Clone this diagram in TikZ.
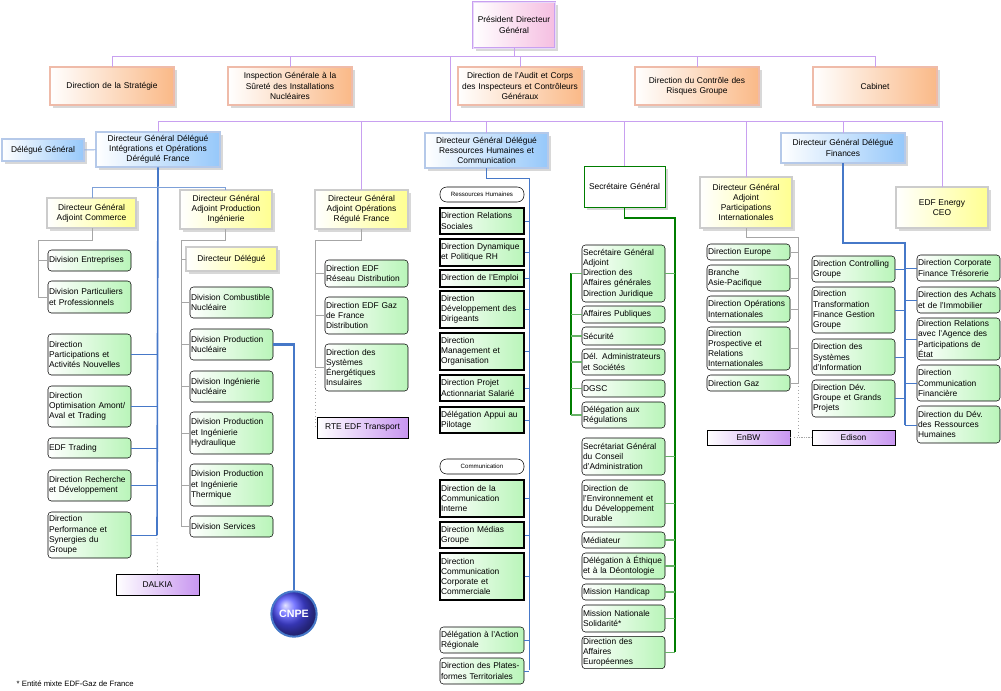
\documentclass[tikz,border=0pt]{standalone}
\usepackage{fontspec}
\setmainfont{Liberation Sans}
\usepackage{xcolor}
\usetikzlibrary{shapes,arrows,positioning,calc,shadows}

\definecolor{lav}{RGB}{200,160,240}
\definecolor{orgB}{RGB}{215,85,40}
\definecolor{orgF}{RGB}{250,185,135}
\definecolor{bluB}{RGB}{70,120,200}
\definecolor{bluF}{RGB}{150,200,250}
\definecolor{yelF}{RGB}{255,255,145}
\definecolor{grnF}{RGB}{185,245,185}
\definecolor{vioF}{RGB}{200,150,240}
\definecolor{pnkF}{RGB}{245,190,225}
\definecolor{dgrn}{RGB}{0,125,0}

\newcommand\fs{\fontsize{6.3}{7.7}\selectfont}
% box from pixel corners: name, x1, y1, x2, y2, style, text
\newcommand\bx[7]{%
  \pgfmathsetmacro\bw{(#4-#2)*0.75}%
  \pgfmathsetmacro\bh{(#5-#3)*0.75}%
  \pgfmathsetmacro\tw{(#4-#2)*0.75-1.6}%
  \node[#6, minimum width=\bw pt, minimum height=\bh pt, text width=\tw pt]
    (#1) at ({(#2+#4)/2},{(#3+#5)/2}) {#7};}

\tikzset{
  box/.style={rectangle, font=\fs, inner xsep=0.8pt, inner ysep=1.5pt, align=center},
  shd/.style={drop shadow={shadow xshift=2pt, shadow yshift=-2pt, fill=black!30}},
  pdg/.style={box, shd, draw=lav, double=lav!40, double distance=0.7pt, left color=white, right color=pnkF},
  org/.style={box, shd, draw=orgB, double=orgB!40, double distance=0.8pt, left color=white, right color=orgF},
  blu/.style={box, shd, draw=bluB, double=bluB!40, double distance=0.8pt, left color=white, right color=bluF},
  yel/.style={box, shd, draw=gray, double=gray!40, double distance=0.8pt, left color=white, right color=yelF},
  sgb/.style={box, shd, draw=dgrn, fill=white},
  grn/.style={box, align=left, draw=black, rounded corners=2.5pt, left color=white, right color=grnF},
  sqg/.style={box, align=left, draw=black, line width=0.8pt, left color=white, right color=grnF},
  vio/.style={box, draw=black, left color=white, right color=vioF},
  tag/.style={box, draw=black, fill=white, rounded corners=5pt, font=\fontsize{4.6}{5}\selectfont},
  lvl/.style={lav, line width=0.7pt},
  gry/.style={gray!70, line width=0.7pt},
  bln/.style={bluB, line width=0.7pt},
  blk/.style={bluB, line width=1.2pt},
  gln/.style={dgrn, line width=1pt},
  lgn/.style={dgrn!60, line width=0.8pt},
  dot/.style={gray!70, dotted, line width=0.6pt}
}

\begin{document}
\begin{tikzpicture}[x=0.75pt, y=-0.75pt]
    \useasboundingbox (0,0) rectangle (1001,690);

    % Bus coordinates
    \coordinate (busA) at (0,56);
    \coordinate (busB) at (0,121);

    % Top level
    \bx{pdg}{473}{2}{555}{48}{pdg}{Président Directeur\\Général}
    \bx{strat}{50}{67}{174}{105}{org}{Direction de la Stratégie}
    \bx{insp}{228}{67}{352}{105}{org}{Inspection Générale à la\\Sûreté des Installations\\Nucléaires}
    \bx{audit}{458}{67}{582}{105}{org}{Direction de l'Audit et Corps\\des Inspecteurs et Contrôleurs\\Généraux}
    \bx{ctrl}{635}{67}{759}{105}{org}{Direction du Contrôle des\\Risques Groupe}
    \bx{cab}{813}{67}{937}{105}{org}{Cabinet}

    % Directeurs generaux
    \bx{delg}{2}{139}{84}{161}{blu}{Délégué Général}
    \bx{dgdi}{96}{132}{220}{167}{blu}{Directeur Général Délégué\\Intégrations et Opérations\\Dérégulé France}
    \bx{dgdr}{425}{133}{548}{168}{blu}{Directeur Général Délégué\\Ressources Humaines et\\Communication}
    \bx{dgdf}{781}{133}{905}{163}{blu}{Directeur Général Délégué\\Finances}
    \bx{secg}{584}{166}{665}{207}{sgb}{Secrétaire Général}
    \bx{acom}{47}{198}{136}{228}{yel}{Directeur Général\\Adjoint Commerce}
    \bx{aprd}{180}{190}{272}{229}{yel}{Directeur Général\\Adjoint Production\\Ingénierie}
    \bx{areg}{315}{190}{408}{229}{yel}{Directeur Général\\Adjoint Opérations\\Régulé France}
    \bx{apar}{700}{177}{792}{228}{yel}{Directeur Général\\Adjoint\\Participations\\Internationales}
    \bx{ener}{896}{187}{988}{228}{yel}{EDF Energy\\CEO}

    % Commerce
    \bx{dent}{48}{250}{131}{271}{grn}{Division Entreprises}
    \bx{dpart}{48}{281}{131}{313}{grn}{Division Particuliers\\et Professionnels}
    % Integrations
    \bx{dpan}{48}{334}{131}{375}{grn}{Direction\\Participations et\\Activités Nouvelles}
    \bx{dopt}{48}{386}{131}{427}{grn}{Direction\\Optimisation Amont/\\Aval et Trading}
    \bx{trad}{48}{438}{131}{458}{grn}{EDF Trading}
    \bx{drd}{48}{470}{131}{501}{grn}{Direction Recherche\\et Développement}
    \bx{dperf}{48}{512}{131}{558}{grn}{Direction\\Performance et\\Synergies du\\Groupe}
    \bx{dalk}{116}{574}{199}{595}{vio}{DALKIA}

    % Production
    \bx{ddel}{186}{247}{277}{271}{yel}{Directeur Délégué}
    \bx{dcomb}{190}{287}{273}{318}{grn}{Division~Combustible\\Nucléaire}
    \bx{dpn}{190}{329}{273}{360}{grn}{Division Production\\Nucléaire}
    \bx{din}{190}{371}{273}{402}{grn}{Division Ingénierie\\Nucléaire}
    \bx{dhyd}{190}{412}{273}{454}{grn}{Division Production\\et Ingénierie\\Hydraulique}
    \bx{dthe}{190}{464}{273}{506}{grn}{Division Production\\et Ingénierie\\Thermique}
    \bx{dsrv}{190}{516}{273}{537}{grn}{Division Services}
    \node[circle, draw=bluB, line width=1.5pt, ball color=blue!70, minimum size=34pt,
          text=white, font=\bfseries\fontsize{8}{9}\selectfont] (cnpe) at (294,614) {CNPE};

    % Regule
    \bx{drsd}{325}{260}{408}{287}{grn}{Direction EDF\\Réseau Distribution}
    \bx{dgaz}{325}{297}{408}{334}{grn}{Direction EDF Gaz\\de France\\Distribution}
    \bx{dsei}{325}{344}{408}{391}{grn}{Direction des\\Systèmes\\Énergétiques\\Insulaires}
    \bx{rte}{317}{417}{408}{438}{vio}{RTE EDF Transport}

    % Ressources humaines et communication
    \bx{trh}{440}{187}{524}{202}{tag}{Ressources Humaines}
    \bx{rsoc}{440}{208}{524}{234}{sqg}{Direction Relations\\Sociales}
    \bx{rdyn}{440}{239}{524}{266}{sqg}{Direction Dynamique\\et Politique RH}
    \bx{remp}{440}{270}{524}{287}{sqg}{Direction de l'Emploi}
    \bx{rdev}{440}{291}{524}{328}{sqg}{Direction\\Développement des\\Dirigeants}
    \bx{rman}{440}{333}{524}{370}{sqg}{Direction\\Management et\\Organisation}
    \bx{rpro}{440}{375}{524}{401}{sqg}{Direction Projet\\Actionnariat Salarié}
    \bx{rapp}{440}{407}{524}{433}{sqg}{Délégation Appui au\\Pilotage}
    \bx{tcom}{440}{459}{524}{474}{tag}{Communication}
    \bx{cint}{440}{480}{524}{517}{sqg}{Direction de la\\Communication\\Interne}
    \bx{cmed}{440}{522}{524}{548}{sqg}{Direction Médias\\Groupe}
    \bx{ccor}{440}{553}{524}{600}{sqg}{Direction\\Communication\\Corporate et\\Commerciale}
    \bx{creg}{440}{627}{524}{653}{grn}{Délégation à l'Action\\Régionale}
    \bx{cplt}{440}{658}{524}{684}{grn}{Direction des Plates-\\formes Territoriales}

    % Secretaire general
    \bx{sga}{582}{245}{665}{302}{grn}{Secrétaire Général\\Adjoint\\Direction des\\Affaires générales\\Direction Juridique}
    \bx{sap}{582}{306}{665}{323}{grn}{Affaires Publiques}
    \bx{ssec}{582}{327}{665}{345}{grn}{Sécurité}
    \bx{sdel}{582}{349}{665}{375}{grn}{Dél. Administrateurs\\et Sociétés}
    \bx{sdgs}{582}{380}{665}{397}{grn}{DGSC}
    \bx{sreg}{582}{402}{665}{428}{grn}{Délégation aux\\Régulations}
    \bx{sca}{582}{438}{665}{475}{grn}{Secrétariat Général\\du Conseil\\d'Administration}
    \bx{senv}{582}{480}{665}{527}{grn}{Direction de\\l'Environnement et\\du Développement\\Durable}
    \bx{smed}{582}{532}{665}{548}{grn}{Médiateur}
    \bx{seth}{582}{553}{665}{579}{grn}{Délégation~à~Éthique\\et à la Déontologie}
    \bx{shan}{582}{584}{665}{600}{grn}{Mission Handicap}
    \bx{ssol}{582}{605}{665}{632}{grn}{Mission Nationale\\Solidarité*}
    \bx{seur}{582}{637}{665}{668}{grn}{Direction des\\Affaires\\Européennes}

    % Participations internationales
    \bx{peur}{707}{244}{790}{260}{grn}{Direction Europe}
    \bx{pasi}{707}{265}{790}{291}{grn}{Branche\\Asie-Pacifique}
    \bx{pope}{707}{296}{790}{322}{grn}{Direction Opérations\\Internationales}
    \bx{ppro}{707}{327}{790}{370}{grn}{Direction\\Prospective et\\Relations\\Internationales}
    \bx{pgaz}{707}{375}{790}{391}{grn}{Direction Gaz}
    \bx{enbw}{707}{430}{790}{445}{vio}{EnBW}
    \bx{edis}{812}{430}{895}{445}{vio}{Edison}

    % Finances
    \bx{fcon}{812}{256}{895}{282}{grn}{Direction Controlling\\Groupe}
    \bx{ftra}{812}{287}{895}{333}{grn}{Direction\\Transformation\\Finance Gestion\\Groupe}
    \bx{fsi}{812}{339}{895}{375}{grn}{Direction des\\Systèmes\\d'Information}
    \bx{fdev}{812}{380}{895}{417}{grn}{Direction Dév.\\Groupe et Grands\\Projets}
    \bx{fcor}{917}{255}{1000}{281}{grn}{Direction Corporate\\Finance Trésorerie}
    \bx{fach}{917}{287}{1000}{313}{grn}{Direction~des~Achats\\et de l'Immobilier}
    \bx{fape}{917}{318}{1000}{360}{grn}{Direction Relations\\avec l'Agence des\\Participations de\\État}
    \bx{fcom}{917}{365}{1000}{401}{grn}{Direction\\Communication\\Financière}
    \bx{frh}{917}{406}{1000}{443}{grn}{Direction du Dév.\\des Ressources\\Humaines}

    \node[font=\fontsize{5.8}{7}\selectfont, anchor=west] (note) at (12,684) {* Entité mixte EDF-Gaz de France};

    % Top connectors
    \draw[lvl] (pdg) -- (pdg |- busA);
    \draw[lvl] (strat.north |- busA) -- (cab.north |- busA);
    \foreach \n in {strat,insp,audit,ctrl,cab} \draw[lvl] (\n.north |- busA) -- (\n.north);
    \coordinate (colA) at (450,0);
    \draw[lvl] (colA |- busA) -- (colA |- busB);
    \coordinate (colP) at (746,0);
    \draw[lvl] (dgdi.north |- busB) -- (ener.north |- busB);
    \foreach \n in {dgdi,areg,dgdr,secg,dgdf,ener} \draw[lvl] (\n.north |- busB) -- (\n.north);
    \draw[lvl] (colP |- busB) -- (colP |- apar.north);
    \draw[bln, bluB!60] (delg) -- (dgdi);

    % Integrations
    \coordinate (trI) at (157,535);
    \coordinate (brI) at (0,187);
    \coordinate (cmX) at (92,0);
    \coordinate (prX) at (225,0);
    \draw[blk] (dgdi.south) -- (trI);
    \draw[dot] (trI) -- (dalk.north);
    \draw[bln, bluB!70] (cmX |- brI) -- (prX |- brI);
    \draw[bln, bluB!70] (cmX |- brI) -- (cmX |- acom.north);
    \draw[bln, bluB!70] (prX |- brI) -- (prX |- aprd.north);
    \foreach \n in {dpan,dopt,trad,drd,dperf} \draw[bln] (\n.east) -- (\n.east -| trI);

    % Commerce
    \coordinate (cmT) at (38,297);
    \draw[gry] (cmX |- acom.south) |- (cmT |- 0,240) -- (cmT);
    \foreach \n in {dent,dpart} \draw[gry] (\n.west) -- (\n.west -| cmT);

    % Production
    \coordinate (prT) at (181,527);
    \draw[gry] (prX |- aprd.south) |- (prT |- 0,240) -- (prT);
    \foreach \n in {ddel,dcomb,dpn,din,dhyd,dthe,dsrv} \draw[gry] (\n.west) -- (\n.west -| prT);
    \coordinate (cnX) at (294,0);
    \draw[blk, line width=1.6pt] (dpn.east) -| (cnX |- cnpe.north);

    % Regule
    \coordinate (rgT) at (315,367);
    \draw[gry] (areg.south) |- (rgT |- 0,240) -- (rgT);
    \foreach \n in {drsd,dgaz,dsei} \draw[gry] (\n.west) -- (\n.west -| rgT);
    \draw[dot] (rgT) |- (rte.west);

    % Ressources humaines
    \coordinate (rhT) at (529,670);
    \draw[bln] (dgdr.south) |- (rhT |- 0,178) -- (rhT);
    \foreach \n in {rsoc,rdyn,remp,rdev,rman,rpro,rapp,cint,cmed,ccor,creg,cplt} \draw[bln] (\n.east) -- (\n.east -| rhT);

    % Secretaire general
    \coordinate (sgT) at (675,652);
    \coordinate (sgL) at (571,273);
    \draw[gln] (secg.south) |- (sgT |- 0,218) -- (sgT);
    \foreach \n in {sga,sca,senv,smed,seth,shan,ssol,seur} \draw[lgn] (\n.east) -- (\n.east -| sgT);
    \draw[gln] (sgL) -- (sgL |- sreg);
    \foreach \n in {sga,sap,ssec,sdel,sdgs,sreg} \draw[lgn] (\n.west) -- (\n.west -| sgL);

    % Participations
    \coordinate (paT) at (798,383);
    \draw[gry] (apar.south) |- (paT |- 0,237) -- (paT);
    \foreach \n in {peur,pasi,pope,ppro,pgaz} \draw[gry] (\n.east) -- (\n.east -| paT);
    \draw[dot] (paT) -- (paT |- edis.west) -- (edis.west);
    \draw[dot] (enbw.east) -- (edis.west);

    % Finances
    \coordinate (fiT) at (905,425);
    \draw[blk] (dgdf.south) |- (fiT |- 0,243) -- (fiT);
    \foreach \n in {fcon,ftra,fsi,fdev} \draw[bln] (\n.east) -- (\n.east -| fiT);
    \foreach \n in {fcor,fach,fape,fcom} \draw[bln] (\n.west) -- (\n.west -| fiT);
    \draw[bln] (fiT) -- (fiT -| frh.west);
\end{tikzpicture}
\end{document}
